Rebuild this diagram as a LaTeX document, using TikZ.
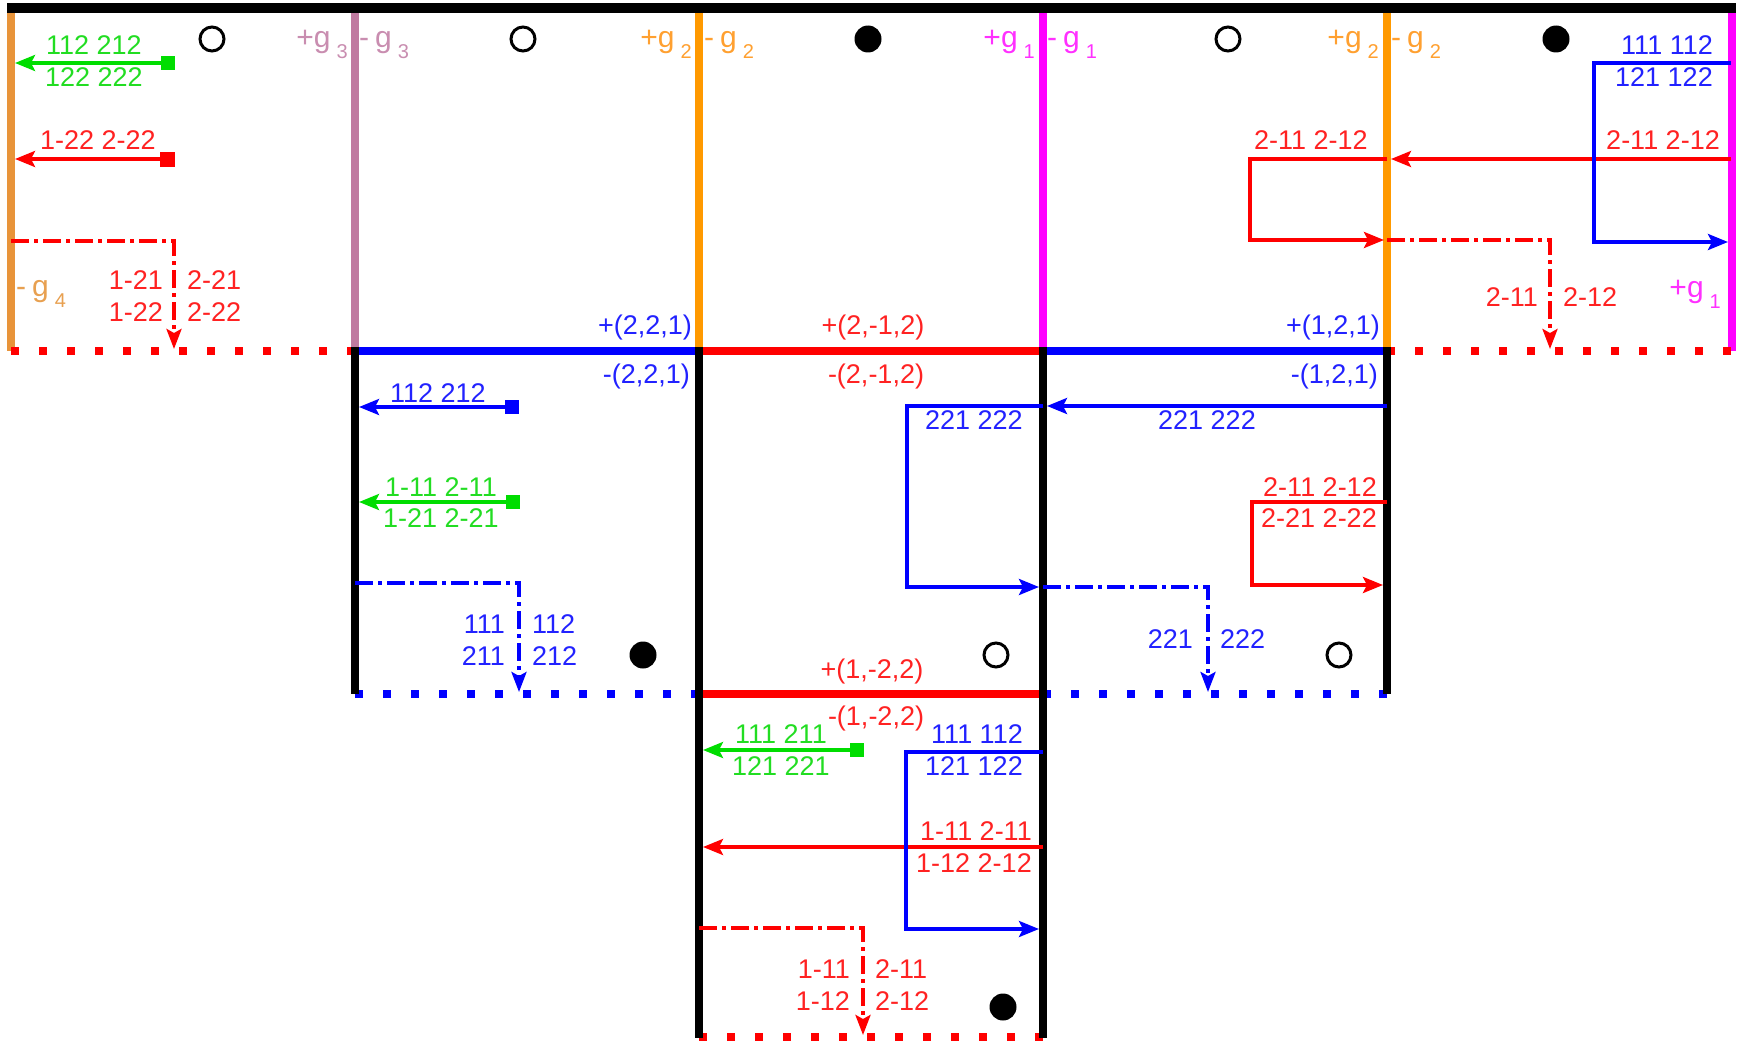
\documentclass[tikz,border=0pt]{standalone}
\usepackage{fontspec}
\setmainfont{Liberation Sans}
\usetikzlibrary{arrows.meta}
\definecolor{cblue}{HTML}{0000FF}
\definecolor{cred}{HTML}{FF0000}
\definecolor{cgreen}{HTML}{00DD00}
\definecolor{tblue}{HTML}{2222FF}
\definecolor{tred}{HTML}{FF2222}
\definecolor{tgreen}{HTML}{22DD22}
\definecolor{corange}{HTML}{FF9900}
\definecolor{corangeB}{HTML}{E8943A}
\definecolor{cmauve}{HTML}{C07AA0}
\definecolor{cmag}{HTML}{FF00FF}
\definecolor{tmauve}{HTML}{C98DB0}
\definecolor{torange}{HTML}{FFA030}
\definecolor{torangeB}{HTML}{E8A050}
\definecolor{tmag}{HTML}{FF30FF}
\newcommand\gsub[1]{\hspace{6pt}\raisebox{-11pt}{\fontsize{20}{20}\selectfont #1}}
\newcommand\gbig{\fontsize{30}{32}\selectfont}
\begin{document}
\begin{tikzpicture}[x=1pt,y=-1pt,
  font=\fontsize{27}{30}\selectfont,
  wall/.style={line width=8pt},
  arr/.style={line width=3.5pt,-{Stealth[length=20pt,width=16pt,inset=4pt]}},
  dd/.style={line width=3.5pt,dash pattern=on 18pt off 5pt on 4pt off 5pt,-{Stealth[length=20pt,width=15pt,inset=4pt]}},
  dots/.style={line width=8pt,dash pattern=on 8pt off 20pt},
  sqm/.style={rectangle,minimum size=14pt,inner sep=0pt},
  lb/.style={inner sep=0pt,anchor=base},
  lbr/.style={inner sep=0pt,anchor=base east},
  lbl/.style={inner sep=0pt,anchor=base west},
  glr/.style={inner sep=0pt,anchor=base east,font=\gbig},
  gll/.style={inner sep=0pt,anchor=base west,font=\gbig},
  ocirc/.style={circle,draw=black,line width=3pt,minimum size=24pt,inner sep=0pt},
  fcirc/.style={circle,fill=black,minimum size=27pt,inner sep=0pt},
]
\useasboundingbox[fill=white] (0,0) rectangle (1738,1041);

% row 1 walls
\draw[wall,corangeB] (11,8) -- (11,351);
\draw[wall,cmauve] (355,8) -- (355,351);
\draw[wall,corange] (699,8) -- (699,351);
\draw[wall,cmag] (1043,8) -- (1043,351);
\draw[wall,corange] (1387,8) -- (1387,351);
\draw[wall,cmag] (1732,8) -- (1732,351);
\draw[line width=10pt] (7,8) -- (1736,8);
% row 1 bottom
\draw[dots,cred] (11,351) -- (355,351);
\draw[wall,cblue] (355,351) -- (699,351);
\draw[wall,cred] (699,351) -- (1043,351);
\draw[wall,cblue] (1043,351) -- (1387,351);
\draw[dots,cred] (1387,351) -- (1731,351);
% row 2/3 bottoms
\draw[dots,cblue] (355,694) -- (699,694);
\draw[wall,cred] (699,694) -- (1043,694);
\draw[dots,cblue] (1043,694) -- (1387,694);
\draw[dots,cred] (699,1037) -- (1043,1037);
% black walls
\draw[wall] (355,347) -- (355,694);
\draw[wall] (699,347) -- (699,1038);
\draw[wall] (1043,347) -- (1043,1038);
\draw[wall] (1387,347) -- (1387,694);

% circles
\node[ocirc] (c1) at (212,39) {};
\node[ocirc] (c2) at (523,39) {};
\node[fcirc] (c3) at (868,39) {};
\node[ocirc] (c4) at (1228,39) {};
\node[fcirc] (c5) at (1556,39) {};
\node[fcirc] (c6) at (643,655) {};
\node[ocirc] (c7) at (996,655) {};
\node[ocirc] (c8) at (1339,655) {};
\node[fcirc] (c9) at (1003,1007) {};

% wall labels
\node[glr,text=tmauve] (g3p) at (348,48) {+g\gsub{3}};
\node[gll,text=tmauve] (g3m) at (359,48) {-\hspace{6pt}g\gsub{3}};
\node[glr,text=torange] (g2p) at (692,48) {+g\gsub{2}};
\node[gll,text=torange] (g2m) at (704,48) {-\hspace{6pt}g\gsub{2}};
\node[glr,text=tmag] (g1p) at (1035,48) {+g\gsub{1}};
\node[gll,text=tmag] (g1m) at (1047,48) {-\hspace{6pt}g\gsub{1}};
\node[glr,text=torange] (g2pb) at (1379,48) {+g\gsub{2}};
\node[gll,text=torange] (g2mb) at (1391,48) {-\hspace{6pt}g\gsub{2}};
\node[gll,text=torangeB] (g4m) at (16,296) {-\hspace{6pt}g\gsub{4}};
\node[glr,text=tmag] (g1pb) at (1721,297) {+g\gsub{1}};

% edge labels
\node[lbr,text=tblue] (e1p) at (692,334) {+(2,2,1)};
\node[lbr,text=tblue] (e1m) at (690,383) {-(2,2,1)};
\node[lb,text=tred] (e2p) at (873,334) {+(2,-1,2)};
\node[lb,text=tred] (e2m) at (876,383) {-(2,-1,2)};
\node[lbr,text=tblue] (e3p) at (1380,334) {+(1,2,1)};
\node[lbr,text=tblue] (e3m) at (1378,383) {-(1,2,1)};
\node[lb,text=tred] (e4p) at (872,678) {+(1,-2,2)};
\node[lb,text=tred] (e4m) at (876,725) {-(1,-2,2)};

% ---- cell A
\node[sqm,fill=cgreen] (sqA1) at (168,63) {};
\coordinate (eA1) at (15,63);
\draw[arr,cgreen] (sqA1.center) -- (eA1);
\node[sqm,fill=cred,minimum size=15pt] (sqA2) at (167,159) {};
\coordinate (eA2) at (15,159);
\draw[arr,cred] (sqA2.center) -- (eA2);
\coordinate (sA3) at (11,241);
\coordinate (cA3) at (174,241);
\coordinate (eA3) at (174,349);
\draw[dd,cred] (sA3) -- (cA3) -- (eA3);
\node[lb,text=tgreen] (tA1) at (94,55) {112 212};
\node[lb,text=tgreen] (tA2) at (94,87) {122 222};
\node[lb,text=tred] (tA3) at (98,149) {1-22 2-22};
\node[lbr,text=tred] (tA4) at (163,289) {1-21};
\node[lbl,text=tred] (tA5) at (187,289) {2-21};
\node[lbr,text=tred] (tA6) at (163,321) {1-22};
\node[lbl,text=tred] (tA7) at (187,321) {2-22};

% ---- cells D / E
\coordinate (sE1) at (1731,159);
\coordinate (mE1) at (1391,159);
\draw[arr,cred] (sE1) -- (mE1);
\coordinate (sD1) at (1387,159);
\coordinate (cD1) at (1250,159);
\coordinate (cD2) at (1250,240);
\coordinate (eD1) at (1384,240);
\draw[arr,cred] (sD1) -- (cD1) -- (cD2) -- (eD1);
\coordinate (sE2) at (1387,240);
\coordinate (cE2) at (1550,240);
\coordinate (eE2) at (1550,349);
\draw[dd,cred] (sE2) -- (cE2) -- (eE2);
\coordinate (sE3) at (1731,63);
\coordinate (cE3a) at (1594,63);
\coordinate (cE3b) at (1594,242);
\coordinate (eE3) at (1728,242);
\draw[arr,cblue] (sE3) -- (cE3a) -- (cE3b) -- (eE3);
\node[lb,text=tred] (tD1) at (1311,149) {2-11 2-12};
\node[lbr,text=tred] (tE1) at (1720,149) {2-11 2-12};
\node[lbr,text=tblue] (tE2) at (1713,55) {111 112};
\node[lbr,text=tblue] (tE3) at (1713,87) {121 122};
\node[lbr,text=tred] (tE4) at (1538,306) {2-11};
\node[lbl,text=tred] (tE5) at (1563,306) {2-12};

% ---- cell F
\node[sqm,fill=cblue] (sqF1) at (512,407) {};
\coordinate (eF1) at (359,407);
\draw[arr,cblue] (sqF1.center) -- (eF1);
\node[sqm,fill=cgreen] (sqF2) at (513,502) {};
\coordinate (eF2) at (359,502);
\draw[arr,cgreen] (sqF2.center) -- (eF2);
\coordinate (sF3) at (355,583);
\coordinate (cF3) at (519,583);
\coordinate (eF3) at (519,692);
\draw[dd,cblue] (sF3) -- (cF3) -- (eF3);
\node[lb,text=tblue] (tF1) at (438,402) {112 212};
\node[lb,text=tgreen] (tF2) at (441,496) {1-11 2-11};
\node[lb,text=tgreen] (tF3) at (441,527) {1-21 2-21};
\node[lbr,text=tblue] (tF4) at (505,633) {111};
\node[lbl,text=tblue] (tF5) at (532,633) {112};
\node[lbr,text=tblue] (tF6) at (505,665) {211};
\node[lbl,text=tblue] (tF7) at (532,665) {212};

% ---- cells G / H
\coordinate (sH1) at (1387,406);
\coordinate (eH1) at (1047,406);
\draw[arr,cblue] (sH1) -- (eH1);
\coordinate (sG1) at (1043,406);
\coordinate (cG1) at (907,406);
\coordinate (cG2) at (907,587);
\coordinate (eG1) at (1039,587);
\draw[arr,cblue] (sG1) -- (cG1) -- (cG2) -- (eG1);
\coordinate (sH2) at (1043,587);
\coordinate (cH2) at (1208,587);
\coordinate (eH2) at (1208,692);
\draw[dd,cblue] (sH2) -- (cH2) -- (eH2);
\coordinate (sH3) at (1387,502);
\coordinate (cH3) at (1252,502);
\coordinate (cH4) at (1252,585);
\coordinate (eH3) at (1383,585);
\draw[arr,cred] (sH3) -- (cH3) -- (cH4) -- (eH3);
\node[lb,text=tblue] (tG1) at (974,429) {221 222};
\node[lb,text=tblue] (tH1) at (1207,429) {221 222};
\node[lbr,text=tred] (tH2) at (1377,496) {2-11 2-12};
\node[lbr,text=tred] (tH3) at (1377,527) {2-21 2-22};
\node[lbr,text=tblue] (tH4) at (1193,648) {221};
\node[lbl,text=tblue] (tH5) at (1220,648) {222};

% ---- cell I
\node[sqm,fill=cgreen] (sqI1) at (857,750) {};
\coordinate (eI1) at (703,750);
\draw[arr,cgreen] (sqI1.center) -- (eI1);
\coordinate (sI3) at (1043,847);
\coordinate (eI3) at (703,847);
\draw[arr,cred] (sI3) -- (eI3);
\coordinate (sI2) at (1043,752);
\coordinate (cI2) at (906,752);
\coordinate (cI3) at (906,929);
\coordinate (eI2) at (1039,929);
\draw[arr,cblue] (sI2) -- (cI2) -- (cI3) -- (eI2);
\coordinate (sI4) at (699,928);
\coordinate (cI4) at (863,928);
\coordinate (eI4) at (863,1035);
\draw[dd,cred] (sI4) -- (cI4) -- (eI4);
\node[lb,text=tgreen] (tI1) at (781,743) {111 211};
\node[lb,text=tgreen] (tI2) at (781,775) {121 221};
\node[lbr,text=tblue] (tI3) at (1023,743) {111 112};
\node[lbr,text=tblue] (tI4) at (1023,775) {121 122};
\node[lbr,text=tred] (tI5) at (1032,840) {1-11 2-11};
\node[lbr,text=tred] (tI6) at (1032,872) {1-12 2-12};
\node[lbr,text=tred] (tI7) at (850,978) {1-11};
\node[lbl,text=tred] (tI8) at (875,978) {2-11};
\node[lbr,text=tred] (tI9) at (850,1010) {1-12};
\node[lbl,text=tred] (tI10) at (875,1010) {2-12};
\end{tikzpicture}
\end{document}
